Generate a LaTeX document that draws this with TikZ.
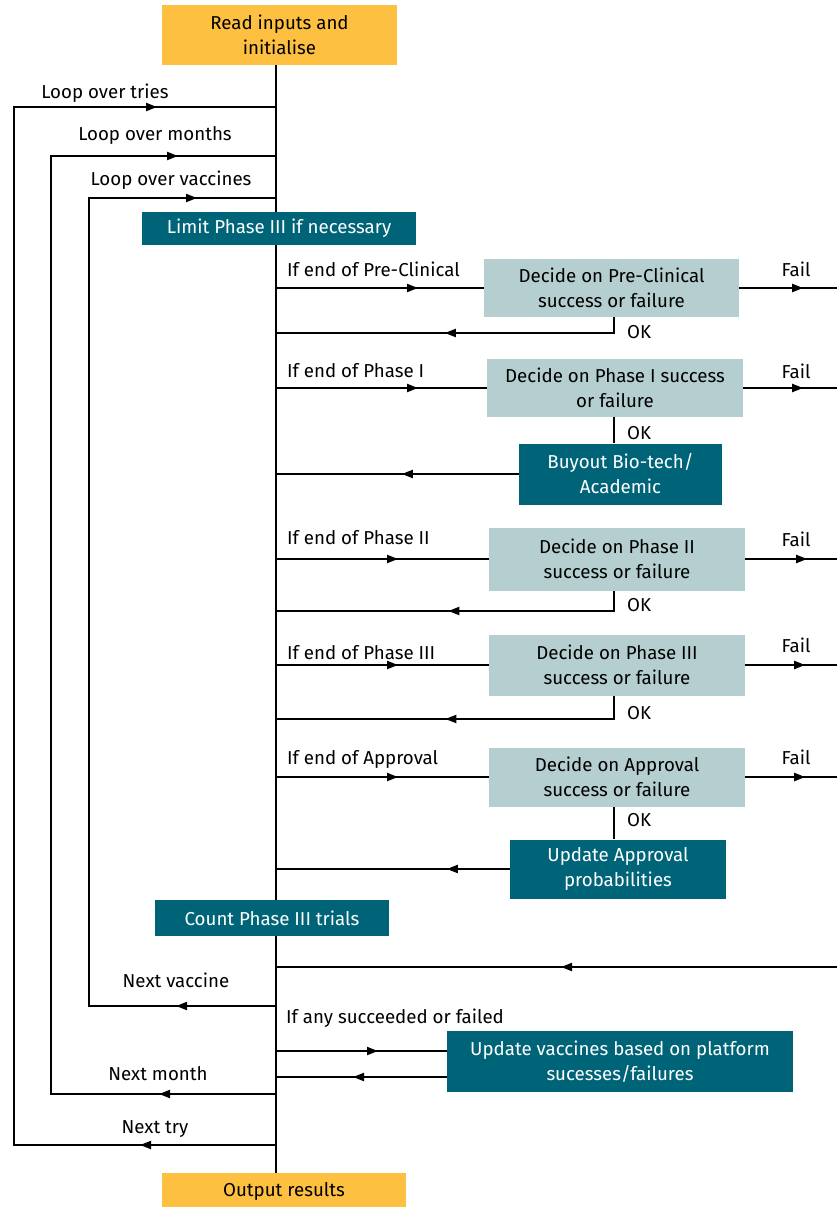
\documentclass[tikz,border=0pt]{standalone}
\usepackage{fontspec}
\setmainfont{Fira Sans}
\usetikzlibrary{arrows.meta,decorations.markings,backgrounds}
\definecolor{gold}{RGB}{254,192,65}
\definecolor{dteal}{RGB}{0,100,120}
\definecolor{lblue}{RGB}{181,207,208}
\begin{document}
\begin{tikzpicture}[x=1pt,y=-1pt,
  every node/.style={font=\fontsize{18.7}{25}\selectfont, inner sep=0pt},
  gbox/.style={fill=gold, align=center},
  lbox/.style={fill=lblue, align=center},
  dbox/.style={fill=dteal, text=white, align=center},
  ln/.style={line width=2pt, line join=miter},
  arrowat/.style={postaction={decorate,decoration={markings,mark=at position #1 with {\arrow{Triangle[length=11pt,width=8pt]}}}}},
  lbl/.style={anchor=center},
  lblw/.style={anchor=west}]
\useasboundingbox (0,0) rectangle (837,1207);
% boxes
\node[gbox, minimum width=235, minimum height=60] (read) at (279.5,35) {Read inputs and\\initialise};
\node[dbox, minimum width=274, minimum height=33] (limit) at (279,228.5) {Limit Phase III if necessary};
\node[lbox, minimum width=255, minimum height=58] (pre) at (611.5,288) {Decide on Pre-Clinical\\success or failure};
\node[lbox, minimum width=256, minimum height=58] (p1) at (615,388) {Decide on Phase I success\\or failure};
\node[dbox, minimum width=203, minimum height=61] (buy) at (620.5,474) {Buyout Bio-tech/\\Academic};
\node[lbox, minimum width=256, minimum height=63] (p2) at (617,559) {Decide on Phase II\\success or failure};
\node[lbox, minimum width=256, minimum height=61] (p3) at (617,665) {Decide on Phase III\\success or failure};
\node[lbox, minimum width=256, minimum height=59] (appr) at (617,777) {Decide on Approval\\success or failure};
\node[dbox, minimum width=216, minimum height=59] (upda) at (618,869) {Update Approval\\probabilities};
\node[dbox, minimum width=234, minimum height=36] (count) at (272,918) {Count Phase III trials};
\node[dbox, minimum width=346, minimum height=61] (updv) at (620,1061.5) {Update vaccines based on platform\\sucesses/failures};
\node[gbox, minimum width=244, minimum height=36] (out) at (284,1191) {Output results};
% reference coordinates
\coordinate (mx) at (276,0);
\coordinate (rx) at (837,0);
\coordinate (okx) at (614,0);
\coordinate (t0) at (276,1145); \coordinate (t1) at (14,1145); \coordinate (t2) at (14,107); \coordinate (t3) at (276,107);
\coordinate (m0) at (276,1094); \coordinate (m1) at (51,1094); \coordinate (m2) at (51,156); \coordinate (m3) at (276,156);
\coordinate (v0) at (276,1006); \coordinate (v1) at (89,1006); \coordinate (v2) at (89,198); \coordinate (v3) at (276,198);
\coordinate (ok1) at (614,333);
\coordinate (ok2) at (614,611);
\coordinate (ok3) at (614,719);
\coordinate (fr) at (837,967);
\coordinate (uv1) at (447,1051);
\coordinate (uv2) at (447,1077);
\begin{scope}[on background layer]
\draw[ln] (read.south -| mx) -- (out.north -| mx);
\draw[ln,arrowat=136pt,arrowat=1443pt] (t0) -- (t1) -- (t2) -- (t3);
\draw[ln,arrowat=117pt,arrowat=1290pt] (m0) -- (m1) -- (m2) -- (m3);
\draw[ln,arrowat=100pt,arrowat=1103pt] (v0) -- (v1) -- (v2) -- (v3);
% pre-clinical
\draw[ln,arrowat=142pt] (pre.west -| mx) -- (pre.west);
\draw[ln,arrowat=64pt] (pre.east) -- (pre.east -| rx);
\draw[ln,arrowat=185pt] (pre.south -| okx) -- (ok1) -- (ok1 -| mx);
% phase I
\draw[ln,arrowat=142pt] (p1.west -| mx) -- (p1.west);
\draw[ln,arrowat=60pt] (p1.east) -- (p1.east -| rx);
\draw[ln] (p1.south -| okx) -- (buy.north -| okx);
\draw[ln,arrowat=117pt] (buy.west) -- (buy.west -| mx);
% phase II
\draw[ln,arrowat=122pt] (p2.west -| mx) -- (p2.west);
\draw[ln,arrowat=62pt] (p2.east) -- (p2.east -| rx);
\draw[ln,arrowat=186pt] (p2.south -| okx) -- (ok2) -- (ok2 -| mx);
% phase III
\draw[ln,arrowat=122pt] (p3.west -| mx) -- (p3.west);
\draw[ln,arrowat=60pt] (p3.east) -- (p3.east -| rx);
\draw[ln,arrowat=192pt] (p3.south -| okx) -- (ok3) -- (ok3 -| mx);
% approval
\draw[ln,arrowat=122pt] (appr.west -| mx) -- (appr.west);
\draw[ln,arrowat=60pt] (appr.east) -- (appr.east -| rx);
\draw[ln] (appr.south -| okx) -- (upda.north -| okx);
\draw[ln,arrowat=63pt] (upda.west) -- (upda.west -| mx);
% fail return
\draw[ln,arrowat=276pt] (fr) -- (fr -| mx);
% update vaccines
\draw[ln,arrowat=102pt] (uv1 -| mx) -- (uv1);
\draw[ln,arrowat=94pt] (uv2) -- (uv2 -| mx);
\end{scope}
% labels
\node[lbl] (lt) at (105,93) {Loop over tries};
\node[lbl] (lm) at (155,135) {Loop over months};
\node[lbl] (lv) at (171,180) {Loop over vaccines};
\node[lblw] (e0) at (287,269) {If end of Pre-Clinical};
\node[lblw] (e1) at (287,371) {If end of Phase I};
\node[lblw] (e2) at (287,538) {If end of Phase II};
\node[lblw] (e3) at (287,653) {If end of Phase III};
\node[lblw] (e4) at (287,759) {If end of Approval};
\node[lbl] (f0) at (796,269) {Fail};
\node[lbl] (f1) at (796,371) {Fail};
\node[lbl] (f2) at (796,539) {Fail};
\node[lbl] (f3) at (796,645) {Fail};
\node[lbl] (f4) at (796,757) {Fail};
\node[lblw] (o0) at (627,332) {OK};
\node[lblw] (o1) at (627,433) {OK};
\node[lblw] (o2) at (627,605) {OK};
\node[lblw] (o3) at (627,713) {OK};
\node[lblw] (o4) at (627,820) {OK};
\node[lbl] (nv) at (176,980) {Next vaccine};
\node[lblw] (any) at (286,1018) {If any succeeded or failed};
\node[lbl] (nm) at (158,1074) {Next month};
\node[lbl] (nt) at (155,1129) {Next try};
\end{tikzpicture}
\end{document}
